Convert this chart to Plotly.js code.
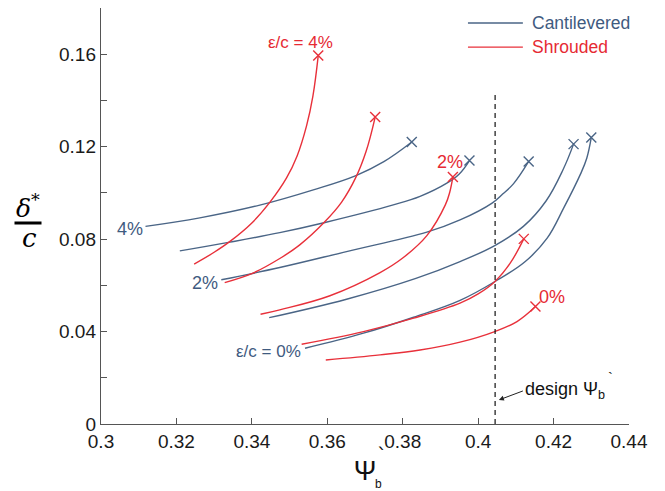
<!DOCTYPE html>
<html>
<head>
<meta charset="utf-8">
<script src="https://cdn.plot.ly/plotly-3.0.1.min.js"></script>
<style>html,body{margin:0;padding:0;background:#fff;}#chart{width:665px;height:491px;}</style>
</head>
<body>
<div id="chart"></div>
<script>
// ---- Data ----
// Cantilevered (blue), by tip clearance eps/c
const cant4X = [0.3118, 0.3262, 0.3421, 0.3563, 0.3676, 0.3750, 0.3824];
const cant4Y = [0.0855, 0.0892, 0.0947, 0.1013, 0.1075, 0.1135, 0.1220];
const cant3X = [0.3209, 0.3342, 0.3474, 0.3594, 0.3775, 0.3846, 0.3917, 0.3950, 0.3977];
const cant3Y = [0.0749, 0.0787, 0.0828, 0.0872, 0.0948, 0.0985, 0.1042, 0.1082, 0.1140];
const cant2X = [0.3319, 0.3474, 0.3651, 0.3864, 0.3952, 0.4037, 0.4065, 0.4094, 0.4134];
const cant2Y = [0.0624, 0.0677, 0.0746, 0.0830, 0.0883, 0.0956, 0.0995, 0.1040, 0.1136];
const cant1X = [0.3446, 0.3651, 0.3835, 0.3952, 0.4044, 0.4120, 0.4180, 0.4225, 0.4253];
const cant1Y = [0.0460, 0.0540, 0.0630, 0.0703, 0.0772, 0.0855, 0.0965, 0.1100, 0.1211];
const cant0X = [0.3541, 0.3696, 0.3829, 0.3952, 0.4044, 0.4125, 0.4183, 0.4227, 0.4271, 0.4288, 0.4300];
const cant0Y = [0.0328, 0.0393, 0.0462, 0.0535, 0.0616, 0.0703, 0.0804, 0.0935, 0.1080, 0.1150, 0.1240];
// Shrouded (red)
const shr4X = [0.3247, 0.3300, 0.3342, 0.3400, 0.3448, 0.3492, 0.3520, 0.3545, 0.3562, 0.3576];
const shr4Y = [0.0692, 0.0743, 0.0790, 0.0870, 0.0960, 0.1065, 0.1160, 0.1290, 0.1420, 0.1594];
const shr3X = [0.3328, 0.3403, 0.3474, 0.3527, 0.3594, 0.3638, 0.3676, 0.3703, 0.3727];
const shr3Y = [0.0612, 0.0653, 0.0716, 0.0775, 0.0876, 0.0960, 0.1068, 0.1180, 0.1328];
const shr2X = [0.3423, 0.3474, 0.3607, 0.3740, 0.3800, 0.3864, 0.3913, 0.3925, 0.3933];
const shr2Y = [0.0475, 0.0494, 0.0555, 0.0655, 0.0718, 0.0815, 0.0948, 0.1005, 0.1069];
const shr1X = [0.3532, 0.3696, 0.3829, 0.3952, 0.4000, 0.4044, 0.4085, 0.4121];
const shr1Y = [0.0345, 0.0400, 0.0458, 0.0523, 0.0563, 0.0616, 0.0696, 0.0801];
const shr0X = [0.3596, 0.3740, 0.3846, 0.3952, 0.4044, 0.4103, 0.4152];
const shr0Y = [0.0277, 0.0299, 0.0320, 0.0354, 0.0400, 0.0443, 0.0508];
// Design point line
const designPsiX = [0.4045, 0.4045];
const designPsiY = [0, 0.143];
// Axis ticks
const xTickVals = [0.3, 0.32, 0.34, 0.36, 0.38, 0.4, 0.42, 0.44];
const xTickText = ['0.3', '0.32', '0.34', '0.36', '0.38', '0.4', '0.42', '0.44'];
const yTickVals = [0, 0.04, 0.08, 0.12, 0.16];
const yTickText = ['0', '0.04', '0.08', '0.12', '0.16'];
const seriesNames = ['Cantilevered', 'Shrouded'];

// ---- Styling ----
const BLUE = '#4a6586';
const BLUE_T = '#3f5b80';
const RED = '#e8303a';
const RED_T = '#e62a33';
const FONT = 'Liberation Sans, Arial, sans-serif';

const cantSets = [[cant4X, cant4Y], [cant3X, cant3Y], [cant2X, cant2Y], [cant1X, cant1Y], [cant0X, cant0Y]];
const shrSets = [[shr4X, shr4Y], [shr3X, shr3Y], [shr2X, shr2Y], [shr1X, shr1Y], [shr0X, shr0Y]];

const traces = [];
function addGroup(sets, color, name) {
  sets.forEach(function (s) {
    traces.push({
      x: s[0], y: s[1], type: 'scatter', mode: 'lines',
      line: {color: color, width: 1.4, shape: 'spline', smoothing: 1.1},
      name: name, legendgroup: name, showlegend: false, hoverinfo: 'skip'
    });
  });
  traces.push({
    x: sets.map(function (s) { return s[0][s[0].length - 1]; }),
    y: sets.map(function (s) { return s[1][s[1].length - 1]; }),
    type: 'scatter', mode: 'markers', showlegend: false, legendgroup: name, name: name,
    marker: {symbol: 'x-thin-open', size: 10, color: color, line: {color: color, width: 1.4}},
    hoverinfo: 'skip'
  });
}
addGroup(cantSets, BLUE, seriesNames[0]);
addGroup(shrSets, RED, seriesNames[1]);

traces.push({
  x: designPsiX, y: designPsiY, type: 'scatter', mode: 'lines', showlegend: false,
  line: {color: '#111', width: 1.2, dash: '5px,4px'}, hoverinfo: 'skip'
});

function lab(text, x, y, color, size) {
  return {text: text, x: x, y: y, xref: 'x', yref: 'y', showarrow: false,
    font: {family: FONT, size: size || 17, color: color}, xanchor: 'center', yanchor: 'middle'};
}
function pap(text, x, y, size, family, color, xanchor) {
  return {text: text, x: x, y: y, xref: 'paper', yref: 'paper', showarrow: false,
    xanchor: xanchor || 'center', yanchor: 'middle',
    font: {family: family || FONT, size: size, color: color || '#111'}};
}

const annotations = [
  lab('ε/c = 4%', 0.3528, 0.1650, RED_T, 17),
  lab('4%', 0.3076, 0.0845, BLUE_T, 18),
  lab('2%', 0.3276, 0.0611, BLUE_T, 18),
  lab('ε/c = 0%', 0.3444, 0.0313, BLUE_T, 17),
  lab('2%', 0.3926, 0.1135, RED_T, 18),
  lab('0%', 0.4197, 0.0550, RED_T, 18),
  {text: 'design Ψ<sub>b</sub>', x: 0.4055, y: 0.0104, xref: 'x', yref: 'y',
   showarrow: true, ax: 24, ay: -9, arrowhead: 2, arrowsize: 1, arrowwidth: 1, arrowcolor: '#222',
   xanchor: 'left', yanchor: 'middle', font: {family: FONT, size: 18, color: '#111'}},
  lab('`', 0.4350, 0.0200, '#111', 15),
  // x-axis title decorations (subscript b and prime)
  pap('b', 0.5265, -0.145, 12),
  pap('`', 0.533, -0.075, 20, 'DejaVu Sans, sans-serif', '#111'),
  // y-axis title as fraction delta*/c
  pap('<i>δ</i><sup>*</sup>', -0.1383, 0.524, 25, 'DejaVu Serif, serif', '#000'),
  pap('<i>c</i>', -0.1345, 0.447, 26, 'DejaVu Serif, serif', '#000'),
  {text: ' ', x: -0.1383, y: 0.482, xref: 'paper', yref: 'paper', showarrow: false,
   xanchor: 'center', yanchor: 'middle', width: 26, height: 2, bgcolor: '#000', borderpad: 0,
   font: {size: 2}},
  // legend texts
  pap('<span style="color:' + BLUE_T + '">' + seriesNames[0] + '</span>', 0.8125, 0.964, 17.5, FONT, BLUE_T, 'left'),
  pap('<span style="color:' + RED_T + '">' + seriesNames[1] + '</span>', 0.8125, 0.906, 17.5, FONT, RED_T, 'left')
];

const layout = {
  width: 665, height: 491,
  margin: {l: 101, r: 36, t: 8, b: 67, pad: 0},
  paper_bgcolor: '#fff', plot_bgcolor: '#fff',
  font: {family: FONT, color: '#111'},
  showlegend: false,
  xaxis: {
    range: [0.3, 0.44], tickmode: 'array', tickvals: xTickVals, ticktext: xTickText,
    ticks: 'inside', ticklen: 6, tickwidth: 1, tickcolor: '#555',
    showline: true, linecolor: '#555', linewidth: 1.2, showgrid: false, zeroline: false,
    tickfont: {family: FONT, size: 19, color: '#1a1a1a'},
    title: {text: 'Ψ', font: {family: FONT, size: 27, color: '#111'}, standoff: 10}
  },
  yaxis: {
    range: [0, 0.18], tickmode: 'array', tickvals: yTickVals, ticktext: yTickText,
    ticks: 'inside', ticklen: 6, tickwidth: 1, tickcolor: '#555',
    minor: {tickmode: 'linear', tick0: 0, dtick: 0.02, ticks: 'inside', ticklen: 6, tickcolor: '#555', showgrid: false},
    showline: true, linecolor: '#555', linewidth: 1.2, showgrid: false, zeroline: false,
    tickfont: {family: FONT, size: 19, color: '#1a1a1a'}
  },
  shapes: [
    {type: 'line', xref: 'paper', yref: 'paper', x0: 0.695, x1: 0.799, y0: 0.964, y1: 0.964,
     line: {color: BLUE, width: 1.4}},
    {type: 'line', xref: 'paper', yref: 'paper', x0: 0.695, x1: 0.799, y0: 0.906, y1: 0.906,
     line: {color: RED, width: 1.4}}
  ],
  annotations: annotations
};

Plotly.newPlot('chart', traces, layout, {staticPlot: true, displayModeBar: false});
</script>
</body>
</html>
